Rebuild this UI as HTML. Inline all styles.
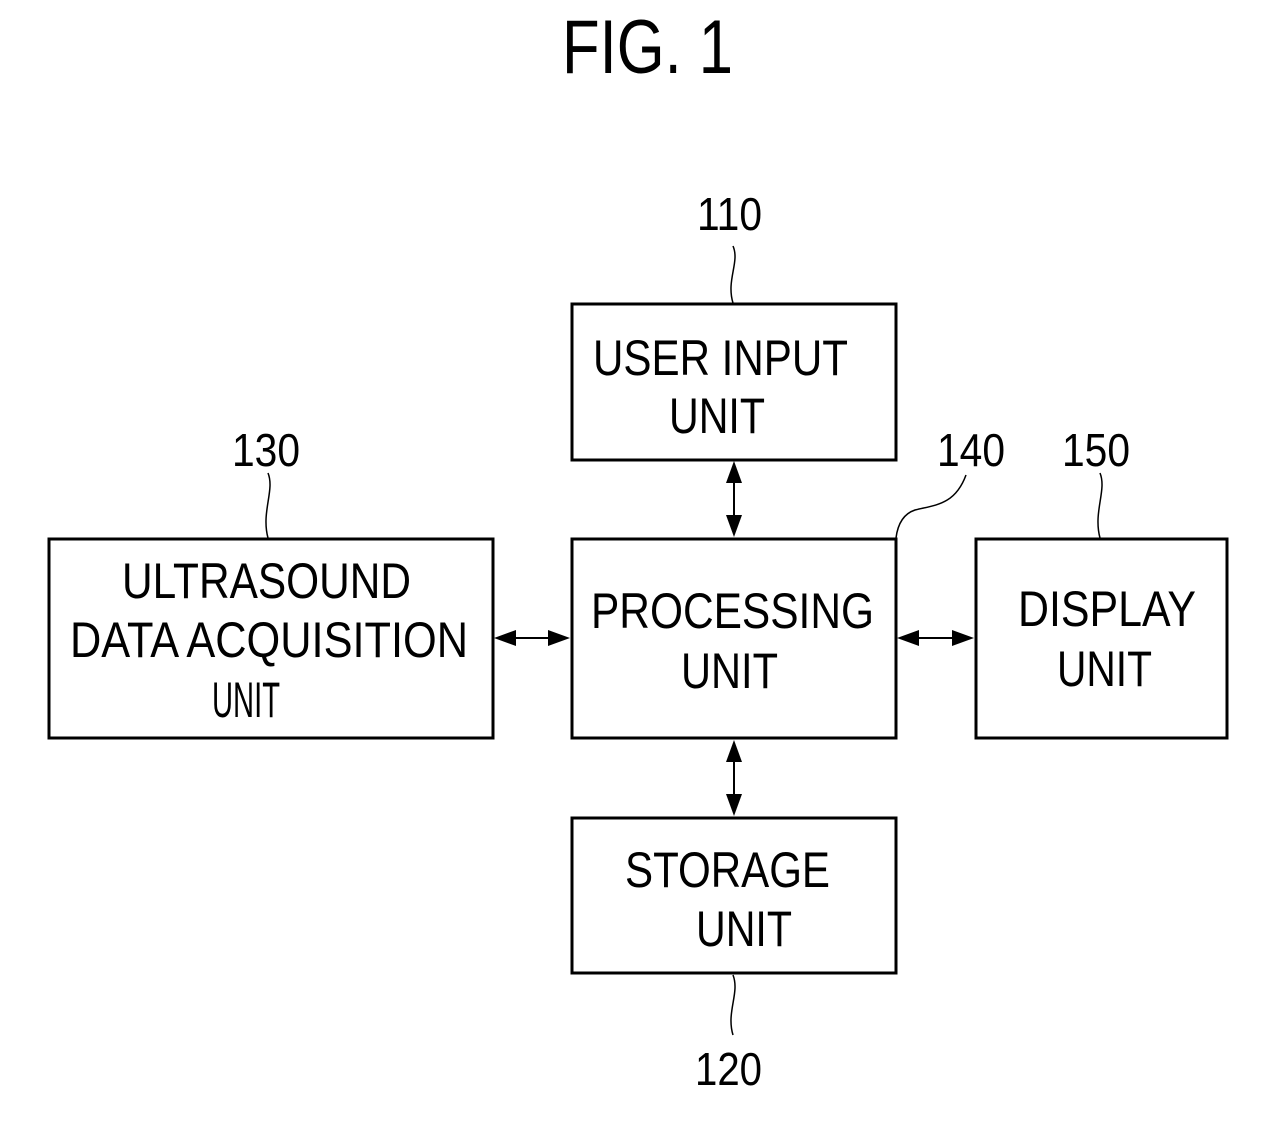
<!DOCTYPE html>
<html><head><meta charset="utf-8"><style>html,body{margin:0;padding:0;background:#fff}svg{display:block}</style></head>
<body>
<svg width="1276" height="1122" viewBox="0 0 1276 1122" xmlns="http://www.w3.org/2000/svg" font-family="'Liberation Sans Narrow','Liberation Sans',sans-serif" fill="#000">
<text x="562" y="73" font-size="76" textLength="171" lengthAdjust="spacingAndGlyphs">FIG. 1</text>
<g fill="none" stroke="#000" stroke-width="3">
<rect x="572" y="304" width="324" height="156"/>
<rect x="572" y="539" width="324" height="199"/>
<rect x="49" y="539" width="444" height="199"/>
<rect x="976" y="539" width="251" height="199"/>
<rect x="572" y="818" width="324" height="155"/>
</g>
<g stroke="#000" stroke-width="2">
<line x1="734" y1="470" x2="734" y2="528"/>
<line x1="734" y1="748" x2="734" y2="807"/>
<line x1="503" y1="638" x2="561" y2="638"/>
<line x1="906" y1="638" x2="965" y2="638"/>
</g>
<polygon points="734,461 726,483 742,483"/>
<polygon points="734,537 726,515 742,515"/>
<polygon points="734,740 726,762 742,762"/>
<polygon points="734,816 726,794 742,794"/>
<polygon points="494,638 516,630 516,646"/>
<polygon points="570,638 548,630 548,646"/>
<polygon points="897,638 919,630 919,646"/>
<polygon points="974,638 952,630 952,646"/>
<g fill="none" stroke="#000" stroke-width="1.5">
<path d="M733,246 C740,262 726,280 733,303"/>
<path d="M268,473 C275,490 261,512 268,538"/>
<path d="M1100,473 C1107,490 1093,512 1100,538"/>
<path d="M733,975 C740,993 726,1012 733,1035"/>
<path d="M966,475 C955,505 935,505 915,510 C900,515 897,530 896,538"/>
</g>
<g font-size="46">
<text x="697" y="230" textLength="65" lengthAdjust="spacingAndGlyphs">110</text>
<text x="232" y="466" textLength="68" lengthAdjust="spacingAndGlyphs">130</text>
<text x="937" y="466" textLength="68" lengthAdjust="spacingAndGlyphs">140</text>
<text x="1062" y="466" textLength="68" lengthAdjust="spacingAndGlyphs">150</text>
<text x="695" y="1085" textLength="67" lengthAdjust="spacingAndGlyphs">120</text>
</g>
<g font-size="50" lengthAdjust="spacingAndGlyphs">
<text x="593" y="375" textLength="255" lengthAdjust="spacingAndGlyphs">USER INPUT</text>
<text x="669" y="433" textLength="96" lengthAdjust="spacingAndGlyphs">UNIT</text>
<text x="122" y="598" textLength="289" lengthAdjust="spacingAndGlyphs">ULTRASOUND</text>
<text x="70" y="657" textLength="398" lengthAdjust="spacingAndGlyphs">DATA ACQUISITION</text>
<text x="212" y="717" textLength="68" lengthAdjust="spacingAndGlyphs">UNIT</text>
<text x="591" y="628" textLength="283" lengthAdjust="spacingAndGlyphs">PROCESSING</text>
<text x="681" y="688" textLength="97" lengthAdjust="spacingAndGlyphs">UNIT</text>
<text x="1018" y="626" textLength="178" lengthAdjust="spacingAndGlyphs">DISPLAY</text>
<text x="1057" y="686" textLength="95" lengthAdjust="spacingAndGlyphs">UNIT</text>
<text x="625" y="887" textLength="205" lengthAdjust="spacingAndGlyphs">STORAGE</text>
<text x="696" y="946" textLength="96" lengthAdjust="spacingAndGlyphs">UNIT</text>
</g>
</svg>
</body></html>
